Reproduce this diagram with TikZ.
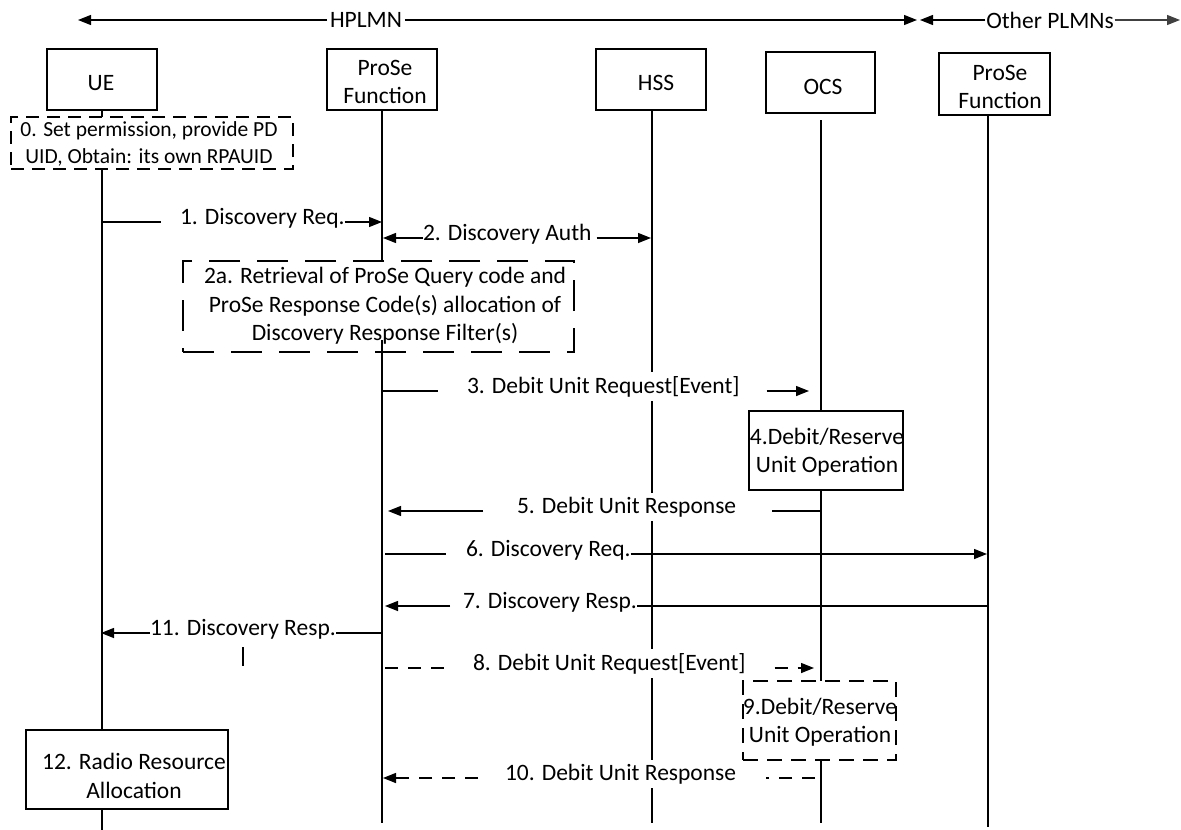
\documentclass[tikz,border=0pt]{standalone}
\usepackage{fontspec}
\setmainfont{Carlito}
\usetikzlibrary{arrows.meta}
\begin{document}
\begin{tikzpicture}[x=1pt,y=-1pt,
  every node/.style={font=\fontsize{23.5}{28.5}\selectfont, inner sep=0pt, outer sep=0pt},
  box/.style={draw, line width=1.4pt, fill=white},
  dbox/.style={box, dash pattern=on 13pt off 8pt},
  bigdbox/.style={box, dash pattern=on 31pt off 17pt},
  midbox/.style={box, dash pattern=on 15pt off 9pt},
  lbl/.style={fill=white, inner ysep=4pt, inner xsep=0pt, anchor=mid west},
  txt/.style={align=center},
  arr/.style={line width=1.4pt, -{Triangle[length=13pt,width=10pt]}},
  ln/.style={line width=1.4pt},
  dln/.style={line width=1.4pt, dash pattern=on 13pt off 10pt},
  darr/.style={arr, dash pattern=on 13pt off 10pt},
]
\useasboundingbox (0,0) rectangle (1181,830);
\fill[white] (0,0) rectangle (1181,830);

% header
\coordinate (hl) at (78,20);
\coordinate (hr) at (917,20);
\coordinate (ol) at (920,20);
\coordinate (or) at (1180,20);
\node[fill=white, inner xsep=3pt] (hp) at (366,20) {HPLMN};
\node[fill=white, inner xsep=1pt] (op) at (1050,20) {Other PLMNs};
\draw[arr] (hp.west) -- (hl);
\draw[arr] (hp.east) -- (hr);
\draw[arr] (op.west) -- (ol);
\draw[arr, line width=1.1pt, black!75] (op.east) -- (or);

% entity boxes
\node[box, minimum width=110pt, minimum height=61pt] (ue) at (102,79.5) {};
\node[box, minimum width=110pt, minimum height=61pt] (pf) at (382,79.5) {};
\node[box, minimum width=110pt, minimum height=61pt] (hss) at (651,79.5) {};
\node[box, minimum width=109pt, minimum height=61pt] (ocs) at (820.5,82.5) {};
\node[box, minimum width=111pt, minimum height=62pt] (pf2) at (994.5,84) {};
\node[txt] (uet) at (101,83) {UE};
\node[txt] (pft) at (385,82) {ProSe\\Function};
\node[txt] (hsst) at (656,83) {HSS};
\node[txt] (ocst) at (823,87) {OCS};
\node[txt] (pf2t) at (1000,87) {ProSe\\Function};

% lifelines
\coordinate (uebot) at (102,830);
\coordinate (pftop2) at (382,261);
\coordinate (pfbot) at (382,823);
\coordinate (hssbot) at (652,823);
\coordinate (ocstop) at (821,120);
\coordinate (ocsbot) at (821,823);
\coordinate (pf2top) at (988,115);
\coordinate (pf2bot) at (988,827);
\draw[ln] (ue.south) -- (uebot);
\draw[ln] (pf.south) -- (pftop2);
\draw[ln] (hss.south -| hssbot) -- (hssbot);
\draw[ln] (ocstop) -- (ocsbot);
\draw[ln] (pf2top) -- (pf2bot);

% action boxes
\node[dbox, minimum width=282pt, minimum height=52pt] (b0) at (152,143) {};
\node[txt, font=\fontsize{21.5}{27}\selectfont] (b0t) at (149,143.5) {0. Set permission, provide PD\\UID, Obtain: its own RPAUID};

\node[bigdbox, minimum width=391pt, minimum height=91pt] (b2a) at (378.5,306.5) {};
\node[txt] (b2at) at (385,306) {2a. Retrieval of ProSe Query code and\\ProSe Response Code(s) allocation of\\Discovery Response Filter(s)};
\coordinate (pfin) at (382,340);
\draw[ln] (pfin) -- (pfbot);

\node[box, minimum width=154pt, minimum height=79pt] (b4) at (826,450.5) {};
\node[txt] (b4t) at (827,452) {4.Debit/Reserve\\Unit Operation};

\node[midbox, minimum width=153pt, minimum height=79pt] (b9) at (819.5,720.5) {};
\node[txt] (b9t) at (820,722) {9.Debit/Reserve\\Unit Operation};

\node[box, minimum width=202pt, minimum height=79pt] (b12) at (127,769.5) {};
\node[txt] (b12t) at (134,776) {12. Radio Resource\\Allocation};

% message end points on lifelines
\coordinate (m1a) at (102,222);  \coordinate (m1b) at (382,222);
\coordinate (m2a) at (383,238);  \coordinate (m2b) at (651,238);
\coordinate (m3a) at (382,391);  \coordinate (m3b) at (809,391);
\coordinate (m5a) at (388,511);  \coordinate (m5b) at (821,511);
\coordinate (m6a) at (385,554);  \coordinate (m6b) at (987,554);
\coordinate (m7a) at (385,606);  \coordinate (m7b) at (987,606);
\coordinate (m11a) at (101,633); \coordinate (m11b) at (382,633);
\coordinate (m8a) at (385,668);  \coordinate (m8b) at (814,668);
\coordinate (m10a) at (383,778); \coordinate (m10b) at (815,778);
\coordinate (tk1) at (243,647);  \coordinate (tk2) at (243,666);

% message labels
\node[lbl] (m1) at (180,222) {1. Discovery Req.};
\node[lbl] (m2) at (423,238) {2. Discovery Auth};
\node[lbl] (m3) at (467,391) {3. Debit Unit Request[Event]};
\node[lbl] (m5) at (517,511) {5. Debit Unit Response};
\node[lbl] (m6) at (466,554) {6. Discovery Req.};
\node[lbl] (m7) at (463,606) {7. Discovery Resp.};
\node[lbl] (m11) at (150,633) {11. Discovery Resp.};
\node[lbl] (m8) at (473,668) {8. Debit Unit Request[Event]};
\node[lbl] (m10) at (505,778) {10. Debit Unit Response};

% messages
\draw[ln] (m1a) -- ([xshift=-19pt]m1.mid west);
\draw[arr] (m1.mid east) -- (m1b);

\draw[arr] (m2.mid west) -- (m2a);
\draw[arr] ([xshift=5pt]m2.mid east) -- (m2b);

\draw[ln] (m3a) -- ([xshift=-29pt]m3.mid west);
\draw[arr] ([xshift=27pt]m3.mid east) -- (m3b);

\draw[ln] (m5b) -- ([xshift=36pt]m5.mid east);
\draw[arr] ([xshift=-34pt]m5.mid west) -- (m5a);

\draw[ln] (m6a) -- ([xshift=-20pt]m6.mid west);
\draw[arr] (m6.mid east) -- (m6b);

\draw[ln] (m7b) -- (m7.mid east);
\draw[arr] ([xshift=-13pt]m7.mid west) -- (m7a);

\draw[ln] (m11b) -- (m11.mid east);
\draw[arr] (m11.mid west) -- (m11a);

\draw[ln] (tk1) -- (tk2);

\draw[dln] (m8a) -- ([xshift=-29pt]m8.mid west);
\draw[darr] ([xshift=29pt]m8.mid east) -- (m8b);

\draw[dln] (m10b) -- ([xshift=30pt]m10.mid east);
\draw[darr] ([xshift=-27pt]m10.mid west) -- (m10a);
\end{tikzpicture}
\end{document}
